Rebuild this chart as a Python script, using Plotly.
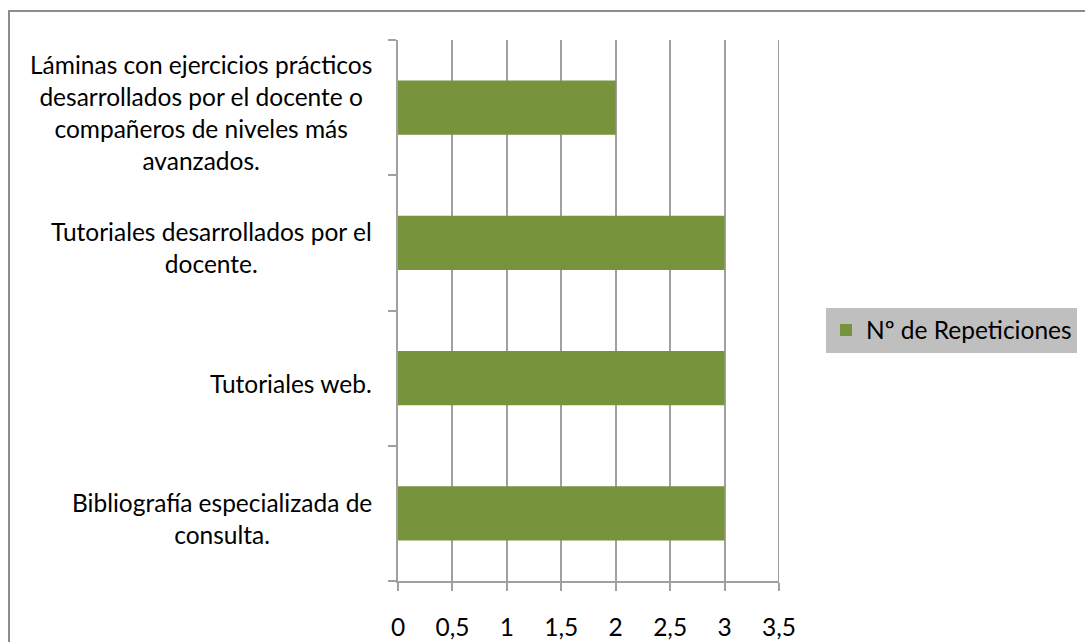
import plotly.graph_objects as go

# Categories listed bottom-to-top, with manual line breaks for the axis labels
categorias = [
    "Bibliografía especializada de<br>consulta.",
    "Tutoriales web.",
    "Tutoriales desarrollados por el<br>docente.",
    "Láminas con ejercicios prácticos<br>desarrollados por el docente o<br>compañeros de niveles más<br>avanzados.",
]
repeticiones = [3, 3, 3, 2]
serie = "Nº de Repeticiones"
x_ticks = [0, 0.5, 1, 1.5, 2, 2.5, 3, 3.5]

FONT = "Lato"
FS = 24.5
GRID = "#a0a0a0"
W, H = 1085, 642
ML, MR, MT, MB = 398, 306, 40, 61
PW, PH = W - ML - MR, H - MT - MB


def px_x(p):
    return (p - ML) / PW


def px_y(p):
    return (H - MB - p) / PH


cat_ids = list(range(len(categorias)))

fig = go.Figure(
    go.Bar(
        x=repeticiones,
        y=cat_ids,
        orientation="h",
        name=serie,
        marker=dict(color="#77933C", line=dict(width=0)),
        showlegend=True,
    )
)

# Category labels: each block right-aligned to the axis, lines centered
annotations = [
    dict(
        x=0, xref="paper", y=i, yref="y",
        text=lbl, showarrow=False, xanchor="right", yanchor="middle",
        align="center", xshift=-24, yshift=-5,
        font=dict(family=FONT, size=FS, color="#000000"),
    )
    for i, lbl in zip(cat_ids, categorias)
]

fig.update_layout(
    width=W, height=H,
    margin=dict(l=ML, r=MR, t=MT, b=MB, autoexpand=False),
    paper_bgcolor="white", plot_bgcolor="white",
    separators=",.",
    bargap=0.6,
    font=dict(family=FONT, size=FS, color="#000000"),
    xaxis=dict(
        range=[0, 3.5], tickvals=x_ticks,
        showgrid=True, gridcolor=GRID, gridwidth=2,
        showline=True, linecolor=GRID, linewidth=2,
        zeroline=False, ticks="outside", ticklen=8, tickcolor=GRID, tickwidth=2,
        tickfont=dict(family=FONT, size=FS), ticklabelstandoff=16,
        automargin=False, fixedrange=True,
    ),
    yaxis=dict(
        type="linear", range=[-0.5, 3.5], tickvals=[-0.5, 0.5, 1.5, 2.5, 3.5],
        showticklabels=False, showgrid=False,
        showline=True, linecolor=GRID, linewidth=2, zeroline=False,
        ticks="outside", ticklen=8, tickcolor=GRID, tickwidth=2,
        automargin=False, fixedrange=True,
    ),
    legend=dict(
        x=px_x(826), y=px_y(330), xanchor="left", yanchor="middle",
        bgcolor="#BFBFBF", borderwidth=0,
        font=dict(family=FONT, size=FS, color="#000000"),
        itemsizing="constant",
    ),
    annotations=annotations,
    shapes=[
        dict(
            type="rect", xref="paper", yref="paper",
            x0=px_x(9), x1=px_x(1100), y0=px_y(660), y1=px_y(11),
            line=dict(color="#8c8c8c", width=2), fillcolor="rgba(0,0,0,0)",
            layer="below",
        ),
        # vertical line at the right end of the axis
        dict(
            type="line", xref="x", yref="paper", x0=3.5, x1=3.5, y0=0, y1=1,
            line=dict(color=GRID, width=2), layer="below",
        ),
    ],
)

fig.write_html("out.html")
